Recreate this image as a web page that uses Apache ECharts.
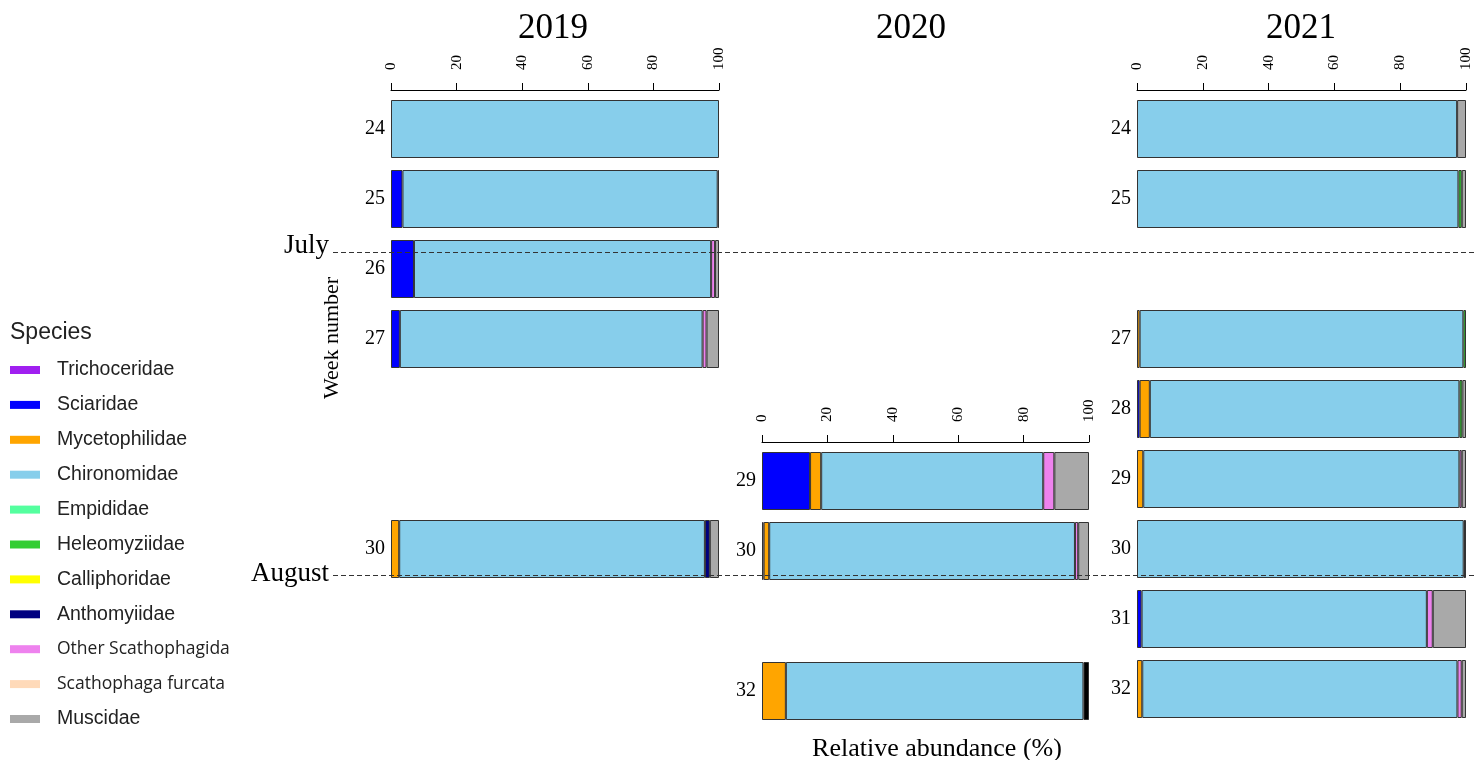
<!DOCTYPE html>
<html>
<head>
<meta charset="utf-8">
<script src="https://cdn.jsdelivr.net/npm/echarts@6/dist/echarts.min.js"></script>
<style>html,body{margin:0;padding:0;background:#fff}#chart{width:1482px;height:760px}</style>
</head>
<body>
<div id="chart"></div>
<script>
// ---------- categories ----------
const weeksAll = ['24', '25', '26', '27', '28', '29', '30', '31', '32'];
const weeks2020 = ['29', '30', '31', '32'];
const years = ['2019', '2020', '2021'];
const species = ['Trichoceridae', 'Sciaridae', 'Mycetophilidae', 'Chironomidae', 'Empididae', 'Heleomyziidae',
  'Calliphoridae', 'Anthomyiidae', 'Other Scathophagidae', 'Scathophaga furcata', 'Muscidae', 'Other'];
const speciesColors = ['#A020F0', '#0000FF', '#FFA500', '#87CEEB', '#54FF9F', '#32CD32',
  '#FFFF00', '#000080', '#EE82EE', '#FFDAB9', '#A9A9A9', '#000000'];
const legendSpecies = species.slice(0, 11);
const monthNames = ['July', 'August'];
const monthWeeks = [25.76, 30.37];

// ---------- 2019 (weeks 24..32) ----------
const sciaridae2019 = [null, 3.5, 7.0, 2.7, null, null, null, null, null];
const myceto2019 = [null, null, null, null, null, null, 2.5, null, null];
const chiro2019 = [100, 96.1, 90.6, 92.3, null, null, 93.2, null, null];
const antho2019 = [null, null, null, null, null, null, 1.5, null, null];
const otherScath2019 = [null, null, 1.2, 1.2, null, null, null, null, null];
const muscidae2019 = [null, null, 1.2, 3.8, null, null, 2.8, null, null];
const other2019 = [null, 0.4, null, null, null, null, null, null, null];

// ---------- 2020 (weeks 29..32) ----------
const tricho2020 = [null, 0.5, null, null];
const sciaridae2020 = [14.7, null, null, null];
const myceto2020 = [3.4, 1.7, null, 7.3];
const chiro2020 = [67.9, 93.5, null, 91.0];
const otherScath2020 = [3.4, 1.0, null, null];
const muscidae2020 = [10.6, 3.3, null, null];
const other2020 = [null, null, null, 1.7];

// ---------- 2021 (weeks 24..32) ----------
const sciaridae2021 = [null, null, null, null, 0.8, null, null, 1.4, null];
const myceto2021 = [null, null, null, 0.8, 3.1, 1.9, null, null, 1.6];
const chiro2021 = [97.3, 97.7, null, 98.4, 94.1, 96.1, 99.3, 86.7, 95.8];
const heleo2021 = [null, 1.0, null, 0.8, 0.9, null, null, null, null];
const otherScath2021 = [null, null, null, null, null, 0.7, null, 1.8, 1.3];
const muscidae2021 = [2.7, 1.3, null, null, 1.1, 1.3, null, 10.1, 1.3];
const other2021 = [null, null, null, null, null, null, 0.7, null, null];

const table2019 = {
  'Sciaridae': sciaridae2019, 'Mycetophilidae': myceto2019, 'Chironomidae': chiro2019,
  'Anthomyiidae': antho2019, 'Other Scathophagidae': otherScath2019, 'Muscidae': muscidae2019, 'Other': other2019
};
const table2020 = {
  'Trichoceridae': tricho2020, 'Sciaridae': sciaridae2020, 'Mycetophilidae': myceto2020, 'Chironomidae': chiro2020,
  'Other Scathophagidae': otherScath2020, 'Muscidae': muscidae2020, 'Other': other2020
};
const table2021 = {
  'Sciaridae': sciaridae2021, 'Mycetophilidae': myceto2021, 'Chironomidae': chiro2021, 'Heleomyziidae': heleo2021,
  'Other Scathophagidae': otherScath2021, 'Muscidae': muscidae2021, 'Other': other2021
};

const SERIF = '"Liberation Serif", "DejaVu Serif", serif';
const SANS = '"Liberation Sans", Arial, sans-serif';

function yearSeries(idx, table) {
  const out = [];
  species.forEach((name, i) => {
    if (!table[name]) return;
    out.push({
      type: 'bar', name: name, xAxisIndex: idx, yAxisIndex: idx, stack: 'stack' + idx,
      barWidth: 58, silent: true,
      data: table[name].map(v => (v == null ? '-' : v)),
      itemStyle: { color: speciesColors[i], borderColor: '#333', borderWidth: 1 }
    });
  });
  return out;
}
function weekHasData(table, k) {
  return Object.keys(table).some(name => table[name][k] != null);
}

const series = [].concat(yearSeries(0, table2019), yearSeries(1, table2020), yearSeries(2, table2021));
// legend-only entries (species with no records in the shown weeks)
const present = new Set(series.map(s => s.name));
species.forEach((name, i) => {
  if (present.has(name)) return;
  series.push({
    type: 'bar', name: name, xAxisIndex: 0, yAxisIndex: 0, stack: 'stack0', barWidth: 58,
    data: weeksAll.map(() => '-'), itemStyle: { color: speciesColors[i], borderColor: '#333', borderWidth: 1 }
  });
});
// month boundaries: dashed lines
series.push({
  type: 'line', xAxisIndex: 3, yAxisIndex: 3, data: [], silent: true, z: 10,
  markLine: {
    silent: true, symbol: 'none', animation: false,
    lineStyle: { type: [5, 3], color: '#333', width: 1 },
    label: { show: false },
    data: monthNames.map((n, i) => ({ name: n, yAxis: monthWeeks[i] }))
  }
});
// month names at the left end of each line
const monthLabelShift = [-6, -1];
series.push({
  type: 'scatter', xAxisIndex: 3, yAxisIndex: 3, silent: true, z: 10, symbolSize: 0,
  itemStyle: { opacity: 1 },
  data: monthNames.map((n, i) => ({
    name: n, value: [0, monthWeeks[i]],
    label: { offset: [0, monthLabelShift[i]] }
  })),
  label: {
    show: true, position: 'left', distance: 4, formatter: p => p.name,
    fontFamily: SERIF, fontSize: 27, color: '#000', opacity: 1, textBorderWidth: 0
  }
});

const grids = [
  { left: 391, width: 328, top: 94, height: 630 },
  { left: 762, width: 327, top: 446, height: 280 },
  { left: 1137, width: 329, top: 94, height: 630 },
  { left: 333, right: 8, top: 94, height: 630 }
];

function xAx(idx) {
  return {
    gridIndex: idx, type: 'value', position: 'top', min: 0, max: 100, interval: 20, offset: 4,
    axisLine: { show: true, lineStyle: { color: '#000', width: 1 } },
    axisTick: { show: true, length: 7, lineStyle: { color: '#000' } },
    axisLabel: { rotate: -90, margin: 20, fontFamily: SERIF, fontSize: 15, color: '#000' },
    splitLine: { show: false }
  };
}
function yAx(idx, cats, table) {
  return {
    gridIndex: idx, type: 'category', data: cats, inverse: true,
    axisLine: { show: false }, axisTick: { show: false },
    axisLabel: {
      interval: 0, margin: 6, fontFamily: SERIF, fontSize: 20, color: '#000',
      formatter: (v, k) => (weekHasData(table, k) ? v : '')
    }
  };
}
const titleFont = { fontFamily: SERIF, fontSize: 35, fontWeight: 'normal', color: '#000' };

const chart = echarts.init(document.getElementById('chart'), null, { renderer: 'canvas' });
chart.setOption({
  animation: false,
  backgroundColor: '#fff',
  title: [
    { text: years[0], left: 553, top: 11, padding: 0, textAlign: 'center', textStyle: titleFont },
    { text: years[1], left: 911, top: 11, padding: 0, textAlign: 'center', textStyle: titleFont },
    { text: years[2], left: 1301, top: 11, padding: 0, textAlign: 'center', textStyle: titleFont },
    { text: 'Relative abundance (%)', left: 937, top: 736, padding: 0, textAlign: 'center', textStyle: { fontFamily: SERIF, fontSize: 26, fontWeight: 'normal', color: '#000' } },
    { text: 'Species', left: 10, top: 321, padding: 0, textStyle: { fontFamily: SANS, fontSize: 23, fontWeight: 'normal', color: '#222' } }
  ],
  graphic: [{
    type: 'text', x: 332, y: 338, rotation: Math.PI / 2, silent: true,
    style: { text: 'Week number', fontFamily: SERIF, fontSize: 22, fill: '#000', textAlign: 'center', textVerticalAlign: 'middle' }
  }],
  legend: {
    orient: 'vertical', left: 10, top: 360, padding: 0, itemWidth: 30, itemHeight: 8, itemGap: 14.9,
    icon: 'rect', selectedMode: false,
    itemStyle: { borderWidth: 0 },
    textStyle: { fontFamily: SANS, fontSize: 19.5, color: '#222', padding: [0, 0, 0, 12], lineHeight: 20 },
    data: legendSpecies.map(name => {
      const d = { name: name };
      if (name === 'Other Scathophagidae' || name === 'Scathophaga furcata') {
        d.textStyle = { fontFamily: '"Open Sans", sans-serif', fontSize: 17.5, width: 180, overflow: 'truncate', ellipsis: '' };
      }
      return d;
    })
  },
  grid: grids,
  xAxis: [xAx(0), xAx(1), xAx(2),
    { gridIndex: 3, type: 'value', min: 0, max: 1, show: false }],
  yAxis: [yAx(0, weeksAll, table2019), yAx(1, weeks2020, table2020), yAx(2, weeksAll, table2021),
    { gridIndex: 3, type: 'value', inverse: true, min: 23.5, max: 32.5, show: false }],
  series: series
});
</script>
</body>
</html>
